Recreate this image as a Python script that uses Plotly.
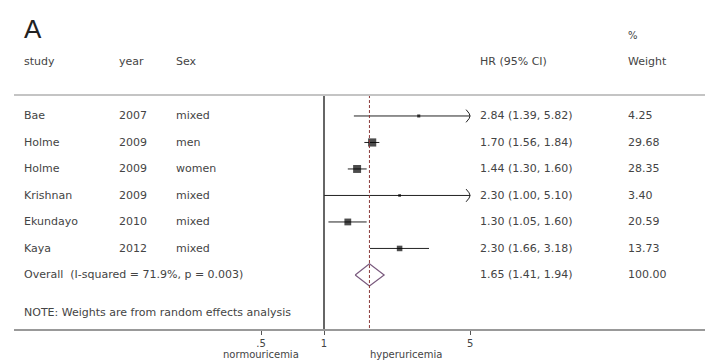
import plotly.graph_objects as go
import numpy as np

studies = ["Bae", "Holme", "Holme", "Krishnan", "Ekundayo", "Kaya"]
years = ["2007", "2009", "2009", "2009", "2010", "2012"]
sexes = ["mixed", "men", "women", "mixed", "mixed", "mixed"]
hr = [2.84, 1.70, 1.44, 2.30, 1.30, 2.30]
lo = [1.39, 1.56, 1.30, 1.00, 1.05, 1.66]
hi = [5.82, 1.84, 1.60, 5.10, 1.60, 3.18]
weights = [4.25, 29.68, 28.35, 3.40, 20.59, 13.73]

overall_hr, overall_lo, overall_hi = 1.65, 1.41, 1.94
overall_label = "Overall  (I-squared = 71.9%, p = 0.003)"
note = "NOTE: Weights are from random effects analysis"
tick_vals = [0.5, 1, 5]
tick_text = [".5", "1", "5"]
x_clip = 5.0

W, H = 705, 362
FONT = "DejaVu Sans"
TC = "#444444"

fig = go.Figure()

rows = list(range(len(studies)))
# CI lines
for i in rows:
    x1 = min(hi[i], x_clip)
    fig.add_trace(go.Scatter(x=[lo[i], x1], y=[i, i], mode="lines",
                             line=dict(color="#222222", width=1), hoverinfo="skip", showlegend=False))
    if hi[i] > x_clip:
        fig.add_trace(go.Scatter(x=[x_clip / 1.045, x_clip, x_clip / 1.045], y=[i - 0.24, i, i + 0.24],
                                 mode="lines", line=dict(color="#222222", width=1, shape="spline"),
                                 hoverinfo="skip", showlegend=False))

# boxes
fig.add_trace(go.Scatter(x=hr, y=rows, mode="markers",
                         marker=dict(symbol="square", color="#000000",
                                     size=[max(2.5, 1.5 * np.sqrt(w)) for w in weights], line=dict(width=0)),
                         hoverinfo="skip", showlegend=False))

ov_row = len(studies)
# diamond
fig.add_trace(go.Scatter(x=[overall_lo, overall_hr, overall_hi, overall_hr, overall_lo],
                         y=[ov_row, ov_row - 0.42, ov_row, ov_row + 0.42, ov_row],
                         mode="lines", line=dict(color="#7a5a7e", width=1.2),
                         hoverinfo="skip", showlegend=False))

top_y = -0.79
bot_y = 8.04
# no-effect line
fig.add_trace(go.Scatter(x=[1, 1], y=[top_y, bot_y], mode="lines",
                         line=dict(color="#333333", width=1.5), hoverinfo="skip", showlegend=False))
# overall dashed line
fig.add_trace(go.Scatter(x=[overall_hr, overall_hr], y=[top_y, bot_y], mode="lines",
                         line=dict(color="#8b3a3a", width=1, dash="3px,2px"), hoverinfo="skip", showlegend=False))

x0_px = 14
left_log = (x0_px - 324) / 209
right_log = (W - 324) / 209

fig.add_shape(type="line", xref="paper", yref="y", x0=x0_px / W, x1=1, y0=top_y, y1=top_y,
              line=dict(color="#c4c4c4", width=2))

ann = []
def txt(xpx, y, s, size=11, anchor="left", color=TC, family=FONT):
    ann.append(dict(x=xpx / W, xref="paper", y=y, yref="y", text=s, showarrow=False,
                    xanchor=anchor, yanchor="middle", font=dict(size=size, color=color, family=family)))

txt(22, -3.3, "A", size=26, color="#222222", family="Liberation Sans")
txt(22, -2.04, "study")
txt(117, -2.04, "year")
txt(174, -2.04, "Sex")
txt(478, -2.04, "HR (95% CI)")
txt(626, -2.04, "Weight")
txt(626, -3.02, "%", size=10)

for i in rows:
    txt(22, i, studies[i])
    txt(117, i, years[i])
    txt(174, i, sexes[i])
    txt(478, i, f"{hr[i]:.2f} ({lo[i]:.2f}, {hi[i]:.2f})")
    txt(626, i, f"{weights[i]:.2f}")

txt(22, ov_row, overall_label)
txt(478, ov_row, f"{overall_hr:.2f} ({overall_lo:.2f}, {overall_hi:.2f})")
txt(626, ov_row, "100.00")
txt(22, 7.4, note)

for xv, s in [(0.5, "normouricemia"), (2.47, "hyperuricemia")]:
    ann.append(dict(x=np.log10(xv), xref="x", y=(H - 354) / H, yref="paper", text=s, showarrow=False,
                    xanchor="center", yanchor="middle", font=dict(size=10, color=TC, family=FONT)))

fig.update_layout(
    width=W, height=H, margin=dict(l=0, r=0, t=0, b=0),
    paper_bgcolor="white", plot_bgcolor="white",
    annotations=ann,
    xaxis=dict(type="log", domain=[x0_px / W, 1], range=[left_log, right_log],
               showgrid=False, zeroline=False, showline=True, linecolor="#999999", linewidth=1.5,
               ticks="outside", ticklen=4, tickcolor="#555555", tickwidth=1,
               tickvals=tick_vals, ticktext=tick_text, tickfont=dict(size=10, color=TC, family=FONT)),
    yaxis=dict(domain=[(H - 329) / H, 1], range=[bot_y, -4.377], visible=False,
               showgrid=False, zeroline=False),
)

fig.write_html("out.html")
